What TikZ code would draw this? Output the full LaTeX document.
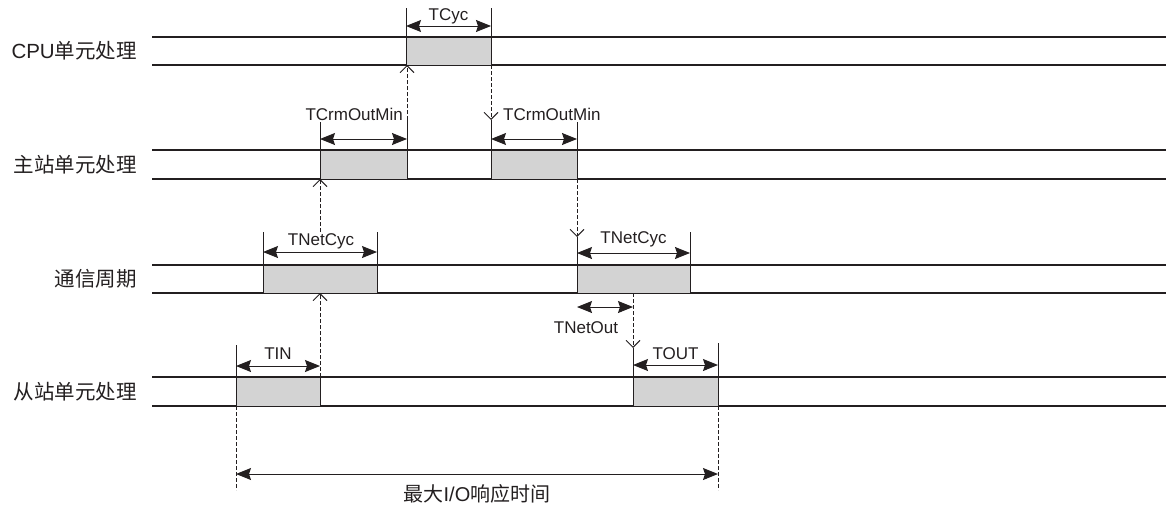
\documentclass[tikz,border=0pt]{standalone}
\usepackage{fontspec}
\setmainfont{Liberation Sans}
\newfontfamily\cjk{Noto Sans CJK SC}
\usetikzlibrary{arrows.meta,calc}
\definecolor{boxgray}{RGB}{211,211,211}
\definecolor{ink}{RGB}{35,31,32}
\begin{document}
\begin{tikzpicture}[x=1pt,y=-1pt,
  rowline/.style={line width=1.1pt, draw=ink},
  procbox/.style={draw=ink, line width=1pt, fill=boxgray, inner sep=0pt, outer sep=0pt, anchor=north west},
  tick/.style={draw=ink, line width=0.9pt},
  dim/.style={draw=ink, line width=1pt, {Stealth[length=15pt,width=12pt,inset=2pt]}-{Stealth[length=15pt,width=12pt,inset=2pt]}},
  sig/.style={draw=ink, line width=0.9pt, dash pattern=on 4pt off 2pt, -{Straight Barb[length=7pt,width=14pt]}},
  guide/.style={draw=ink, line width=0.9pt, dash pattern=on 4pt off 2pt},
  tlabel/.style={font=\fontsize{17}{20}\selectfont, text=ink, inner sep=0pt},
  rlabel/.style={font=\fontsize{20.5}{24}\selectfont, text=ink, anchor=east, inner sep=0pt},
]
\useasboundingbox (0,0) rectangle (1166,506);

% row lines
\foreach \t/\b in {37/65, 150/179, 265/293, 377/406}{
  \draw[rowline] (152,\t) -- (1166,\t);
  \draw[rowline] (152,\b) -- (1166,\b);
}

% row labels
\node[rlabel] (rCPU) at (137,51) {CPU{\cjk 单元处理}};
\node[rlabel] (rMain) at (137,164.5) {\cjk 主站单元处理};
\node[rlabel] (rComm) at (137,279) {\cjk 通信周期};
\node[rlabel] (rSlave) at (137,391.5) {\cjk 从站单元处理};

% process boxes
\node[procbox, minimum width=85pt, minimum height=28pt] (cpu) at (406,37) {};
\node[procbox, minimum width=87pt, minimum height=29pt] (m1) at (320,150) {};
\node[procbox, minimum width=86pt, minimum height=29pt] (m2) at (491,150) {};
\node[procbox, minimum width=114pt, minimum height=28pt] (c1) at (263,265) {};
\node[procbox, minimum width=113pt, minimum height=28pt] (c2) at (577,265) {};
\node[procbox, minimum width=84pt, minimum height=29pt] (s1) at (236,377) {};
\node[procbox, minimum width=85pt, minimum height=29pt] (s2) at (633,377) {};

% TCyc
\draw[tick] (cpu.north west) -- ++(0,-29);
\draw[tick] (cpu.north east) -- ++(0,-29);
\draw[dim] ($(cpu.north west)+(0,-11)$) -- ($(cpu.north east)+(0,-11)$);
\node[tlabel] (lTCyc) at ($(cpu.north)+(0,-21)$) {TCyc};

% TCrmOutMin (left)
\draw[tick] (m1.north west) -- ++(0,-28);
\draw[tick] (m1.north east) -- ++(0,-30) coordinate (m1up);
\draw[dim] ($(m1.north west)+(0,-11)$) -- ($(m1.north east)+(0,-11)$);
\node[tlabel, anchor=east] (lTC1) at ($(m1.north east)+(-4,-36)$) {TCrmOutMin};
\draw[sig] (m1up) -- (m1up |- cpu.south);

% TCrmOutMin (right)
\draw[tick] (m2.north west) -- ++(0,-30) coordinate (m2up);
\draw[tick] (m2.north east) -- ++(0,-28);
\draw[dim] ($(m2.north west)+(0,-11)$) -- ($(m2.north east)+(0,-11)$);
\node[tlabel, anchor=west] (lTC2) at ($(m2.north west)+(12,-36)$) {TCrmOutMin};
\draw[sig] (cpu.south east) -- (m2up);

% TNetCyc (left)
\draw[tick] (c1.north west) -- ++(0,-33);
\draw[tick] (c1.north east) -- ++(0,-33);
\draw[dim] ($(c1.north west)+(0,-13)$) -- ($(c1.north east)+(0,-13)$);
\node[tlabel] (lNC1) at ($(c1.north)+(1,-24)$) {TNetCyc};
\draw[sig] ($(m1.south west |- c1.north)+(0,-33)$) -- (m1.south west);
\draw[sig] (s1.north east) -- (s1.north east |- c1.south);

% TNetCyc (right)
\draw[tick] (c2.north west) -- ++(0,-28) coordinate (c2up);
\draw[tick] (c2.north east) -- ++(0,-33);
\draw[dim] ($(c2.north west)+(0,-12)$) -- ($(c2.north east)+(0,-12)$);
\node[tlabel] (lNC2) at ($(c2.north)+(0,-26)$) {TNetCyc};
\draw[sig] (m2.south east) -- (c2up);

% TNetOut
\coordinate (noL) at ($(c2.south west)+(0,14)$);
\draw[dim] (noL) -- (noL -| s2.north west);
\node[tlabel] (lNO) at ($(c2.south west)+(9,35)$) {TNetOut};

% TIN
\draw[tick] (s1.north west) -- ++(0,-32);
\draw[dim] ($(s1.north west)+(0,-11)$) -- ($(s1.north east)+(0,-11)$);
\node[tlabel] (lTIN) at ($(s1.north)+(0,-23)$) {TIN};

% TOUT
\draw[tick] (s2.north west) -- ++(0,-29) coordinate (s2up);
\draw[tick] (s2.north east) -- ++(0,-34);
\draw[dim] ($(s2.north west)+(0,-12)$) -- ($(s2.north east)+(0,-12)$);
\node[tlabel] (lTOUT) at ($(s2.north)+(0,-23)$) {TOUT};
\draw[sig] (s2.north west |- c2.south) -- (s2up);

% maximum I/O response time
\draw[guide] (s1.south west) -- ++(0,84) coordinate (bL);
\draw[guide] (s2.south east) -- ++(0,84) coordinate (bR);
\draw[dim] ($(s1.south west)+(0,68)$) -- ($(s2.south east)+(0,68)$);
\node[tlabel, font=\fontsize{20}{24}\selectfont] (lMax) at ($(s1.south west)!0.5!(s2.south east)+(0,88)$) {{\cjk 最大}I/O{\cjk 响应时间}};
\end{tikzpicture}
\end{document}
